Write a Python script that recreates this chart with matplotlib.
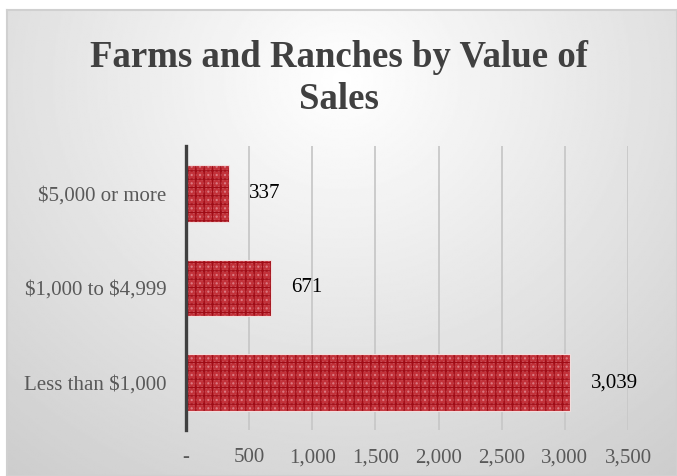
import numpy as np
import matplotlib.pyplot as plt

plt.rcParams['font.family'] = ['Liberation Serif', 'DejaVu Serif']
plt.rcParams['hatch.linewidth'] = 1.0

categories = ['Less than $1,000', '$1,000 to $4,999', '$5,000 or more']
values = [3039, 671, 337]
value_labels = ['3,039', '671', '337']
xticks = [0, 500, 1000, 1500, 2000, 2500, 3000, 3500]
xtick_labels = ['-', '500', '1,000', '1,500', '2,000', '2,500', '3,000', '3,500']

fig = plt.figure(figsize=(6.77, 4.76), dpi=100)
fig.patch.set_facecolor('white')

# gradient background inside the chart border
bg = fig.add_axes([7/677, 0, 670/677, 466/476])
yy, xx = np.mgrid[0:1:300j, 0:1:400j]
r = np.sqrt(((xx - 0.5) / 0.75) ** 2 + ((yy - 0.15) / 1.0) ** 2)
shade = 1.0 - 0.22 * np.clip(r, 0, 1.2) / 1.2
bg.imshow(shade, cmap='gray', vmin=0, vmax=1, aspect='auto',
          extent=[0, 1, 0, 1], origin='upper', interpolation='bilinear')
bg.set_xlim(0, 1)
bg.set_ylim(0, 1)
bg.set_xticks([])
bg.set_yticks([])
for s in bg.spines.values():
    s.set_color('#d0d0d0')
    s.set_linewidth(1.5)

fig.text(0.5, 0.835, 'Farms and Ranches by Value of\nSales', ha='center', va='center',
         fontsize=26.5, fontweight='bold', color='#404040', linespacing=1.24)

ax = fig.add_axes([186/677, 46/476, 442/677, 284/476])
ax.patch.set_alpha(0)
ypos = np.arange(len(categories))
# dotted pink layer, then dark grid lines, then thin light outline
ax.barh(ypos, values, height=0.6, color='#c2323a', edgecolor='#dd8088',
        hatch='....', linewidth=0, zorder=3)
ax.barh(ypos, values, height=0.6, color='none', edgecolor='#a00c16',
        hatch='++', linewidth=0, zorder=4)
ax.barh(ypos, values, height=0.6, color='none', edgecolor='#f2dcdc',
        linewidth=0.8, zorder=5)
for y, v, lab in zip(ypos, values, value_labels):
    ax.text(v + 165, y, lab, va='center', ha='left', fontsize=15, color='black')

ax.set_xlim(0, 3500)
ax.set_ylim(-0.5, 2.5)
ax.set_xticks(xticks)
ax.set_xticklabels(xtick_labels)
ax.set_yticks(ypos)
ax.set_yticklabels(categories, parse_math=False)
ax.tick_params(axis='both', length=0, labelsize=15, colors='#595959')
ax.tick_params(axis='x', pad=13)
ax.tick_params(axis='y', pad=14)
ax.grid(axis='x', color='#c8c8c8', linewidth=1.3, zorder=0)
for name in ['top', 'right', 'bottom']:
    ax.spines[name].set_visible(False)
ax.spines['left'].set_color('#404040')
ax.spines['left'].set_linewidth(2.4)
ax.spines['left'].set_zorder(6)

fig.savefig('out.png', dpi=100)
